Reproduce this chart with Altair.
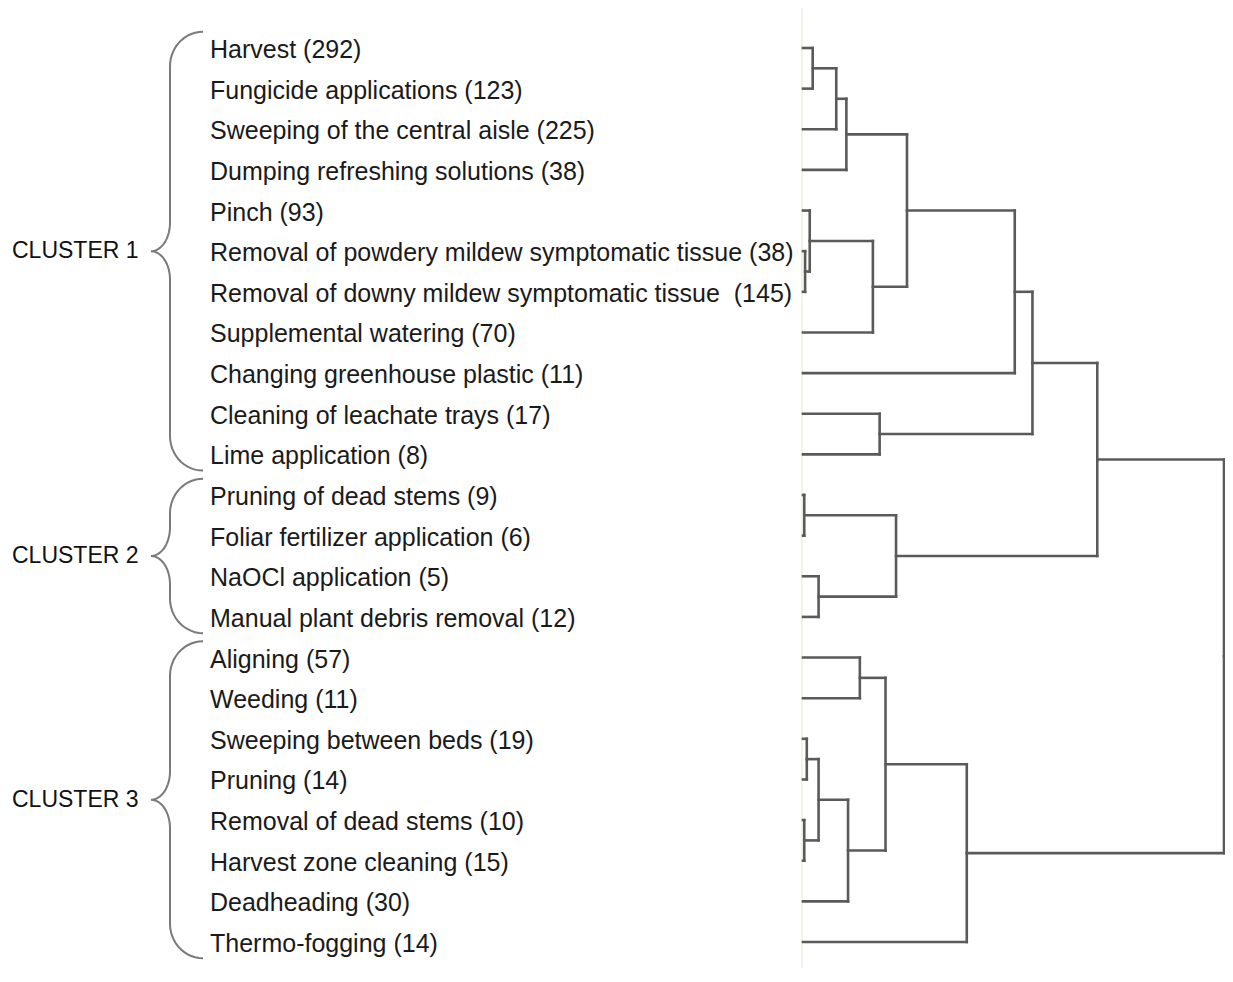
import altair as alt
import pandas as pd
import numpy as np

# ---------------- data ----------------
leaf_labels = [
    "Harvest (292)",
    "Fungicide applications (123)",
    "Sweeping of the central aisle (225)",
    "Dumping refreshing solutions (38)",
    "Pinch (93)",
    "Removal of powdery mildew symptomatic tissue (38)",
    "Removal of downy mildew symptomatic tissue \u00a0(145)",
    "Supplemental watering (70)",
    "Changing greenhouse plastic (11)",
    "Cleaning of leachate trays (17)",
    "Lime application (8)",
    "Pruning of dead stems (9)",
    "Foliar fertilizer application (6)",
    "NaOCl application (5)",
    "Manual plant debris removal (12)",
    "Aligning (57)",
    "Weeding (11)",
    "Sweeping between beds (19)",
    "Pruning (14)",
    "Removal of dead stems (10)",
    "Harvest zone cleaning (15)",
    "Deadheading (30)",
    "Thermo-fogging (14)",
]

cluster_names = ["CLUSTER 1", "CLUSTER 2", "CLUSTER 3"]
cluster_first = [0, 11, 15]
cluster_last = [10, 14, 22]

# linkage (scipy style: ids >= 23 refer to earlier merges)
merge_a = [0, 23, 24, 5, 4, 27, 25, 29, 9, 30, 11, 13, 33, 32, 15, 17, 19, 38, 40, 37, 42, 36]
merge_b = [1, 2, 3, 6, 26, 7, 28, 8, 10, 31, 12, 14, 34, 35, 16, 18, 20, 39, 21, 41, 22, 43]
merge_h = [2.3, 7.9, 10.3, 0.5, 1.6, 16.6, 24.7, 50.3, 18.2, 54.5, 0.3, 3.7, 22.1, 69.9,
           13.5, 0.9, 0.3, 3.7, 10.7, 19.6, 38.9, 100.0]

# ---------------- build tables ----------------
n = len(leaf_labels)
ypos = {i: float(i) for i in range(n)}
hpos = {i: 0.0 for i in range(n)}
segs = []
for k, (a, b, h) in enumerate(zip(merge_a, merge_b, merge_h)):
    nid = n + k
    ya, yb = ypos[a], ypos[b]
    segs.append(dict(x=hpos[a], x2=h, y=ya, y2=ya))
    segs.append(dict(x=hpos[b], x2=h, y=yb, y2=yb))
    segs.append(dict(x=h, x2=h, y=ya, y2=yb))
    ypos[nid] = (ya + yb) / 2.0
    hpos[nid] = h
root = n + len(merge_h) - 1
segs.append(dict(x=hpos[root], x2=hpos[root] + 0.15, y=ypos[root], y2=ypos[root]))
seg_df = pd.DataFrame(segs)

leaf_df = pd.DataFrame({"idx": list(range(n)), "label": leaf_labels})
clab_df = pd.DataFrame({
    "name": cluster_names,
    "mid": [(f + l) / 2.0 for f, l in zip(cluster_first, cluster_last)],
})

# curly braces derived from cluster spans
W, H = 1217, 960
tip_x, spine_x, point_x = 195.0, 162.0, 143.0
rows = []
for name, f, l in zip(cluster_names, cluster_first, cluster_last):
    top, bot, mid = f - 0.4, l + 0.4, (f + l) / 2.0
    r_end, r_mid = 0.85, 0.7
    pts = []
    th = np.linspace(0, np.pi / 2, 14)
    for t in th:
        pts.append((tip_x - (tip_x - spine_x) * np.sin(t), top + r_end * (1 - np.cos(t))))
    for t in th:
        pts.append((point_x + (spine_x - point_x) * np.cos(t), mid - r_mid + r_mid * np.sin(t)))
    for t in th[::-1]:
        pts.append((point_x + (spine_x - point_x) * np.cos(t), mid + r_mid - r_mid * np.sin(t)))
    for t in th[::-1]:
        pts.append((tip_x - (tip_x - spine_x) * np.sin(t), bot - r_end * (1 - np.cos(t))))
    for s, (bx, by) in enumerate(pts):
        rows.append(dict(cluster=name, seq=s, bx=bx, by=by))
brace_df = pd.DataFrame(rows)

# ---------------- chart ----------------
FONT = "Liberation Sans, Arial, Helvetica, sans-serif"
xdom = [-188.84, 100.24]
ydom = [-0.9843, 22.640]
xscale = alt.Scale(domain=xdom, nice=False, zero=False)
yscale = alt.Scale(domain=ydom, reverse=True, nice=False, zero=False)

guide = alt.Chart(pd.DataFrame({"h": [-0.25]})).mark_rule(
    color="#eeeee4", strokeWidth=1.5
).encode(
    x=alt.X("h:Q", scale=xscale, axis=None),
    y=alt.value(0),
    y2=alt.value(H),
)

branches = alt.Chart(seg_df).mark_rule(
    color="#5a5a5a", strokeWidth=2.6, strokeCap="square"
).encode(
    x=alt.X("x:Q", scale=xscale, axis=None),
    x2="x2:Q",
    y=alt.Y("y:Q", scale=yscale, axis=None),
    y2="y2:Q",
)

braces = alt.Chart(brace_df).mark_line(
    color="#7a7a7a", strokeWidth=2
).encode(
    x=alt.X("bx:Q", scale=alt.Scale(domain=[0, W], nice=False, zero=False), axis=None),
    y=alt.Y("by:Q", scale=yscale, axis=None),
    detail="cluster:N",
    order="seq:Q",
)

texts = alt.Chart(leaf_df).mark_text(
    align="left", baseline="middle", font=FONT, fontSize=25, color="#1a1a1a", dy=2
).encode(
    x=alt.value(202),
    y=alt.Y("idx:Q", scale=yscale, axis=None),
    text="label:N",
)

ctexts = alt.Chart(clab_df).mark_text(
    align="left", baseline="middle", font=FONT, fontSize=23, color="#111111"
).encode(
    x=alt.value(4),
    y=alt.Y("mid:Q", scale=yscale, axis=None),
    text="name:N",
)

chart = alt.layer(guide, branches, braces, texts, ctexts).resolve_scale(
    x="independent"
).properties(
    width=W, height=H, padding=0, autosize=alt.AutoSizeParams(type="none")
).configure_view(stroke=None)

chart.save("out.html", embed_options={"renderer": "svg", "actions": False})
